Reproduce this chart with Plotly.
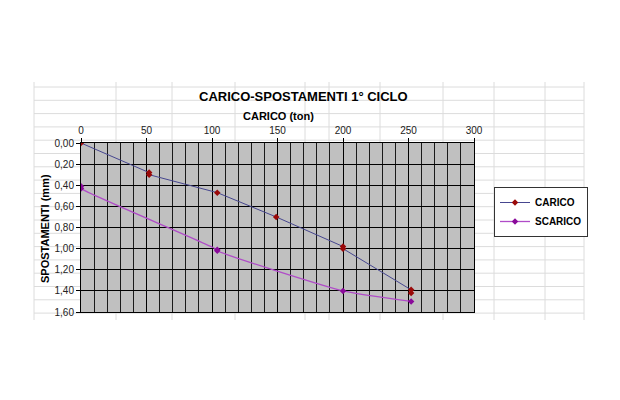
import plotly.graph_objects as go

# ---- data ----
carico_load = [0, 52, 52, 104, 149, 200, 200, 252, 252]
carico_disp = [0.00, 0.28, 0.30, 0.47, 0.70, 0.98, 1.00, 1.39, 1.42]

scarico_load = [252, 200, 104, 104, 0, 0]
scarico_disp = [1.50, 1.40, 1.02, 1.01, 0.43, 0.41]

x_ticks = [0, 50, 100, 150, 200, 250, 300]
y_ticks = [0.0, 0.2, 0.4, 0.6, 0.8, 1.0, 1.2, 1.4, 1.6]

title_text = "CARICO-SPOSTAMENTI 1° CICLO"
x_title = "CARICO (ton)"
y_title = "SPOSTAMENTI (mm)"

W, H = 620, 400
FONT = "Liberation Sans, Arial, sans-serif"

def px(x):
    return x / W

def py(y):
    return 1 - y / H

fig = go.Figure()

fig.add_trace(go.Scatter(
    x=carico_load, y=carico_disp, name="<b>CARICO</b>", mode="lines+markers",
    line=dict(color="#46468f", width=1),
    marker=dict(symbol="diamond", size=5, color="#9a0a0a"),
))
fig.add_trace(go.Scatter(
    x=scarico_load, y=scarico_disp, name="<b>SCARICO</b>", mode="lines+markers",
    line=dict(color="#b04cc8", width=1.3, shape="spline", smoothing=0.5),
    marker=dict(symbol="diamond", size=5, color="#8a0a9a"),
))

# faint spreadsheet cell grid behind the chart
shapes = []
row_lines = [87 + 13.3 * i for i in range(18)]
col_lines = [34, 116, 172, 235, 305, 329, 380, 443, 494, 545, 584]
for yy in row_lines:
    shapes.append(dict(type="line", xref="paper", yref="paper", x0=px(34), x1=px(584),
                       y0=py(yy), y1=py(yy), line=dict(color="#dcdcdc", width=1), layer="below"))
for xx in col_lines:
    shapes.append(dict(type="line", xref="paper", yref="paper", x0=px(xx), x1=px(xx),
                       y0=py(82), y1=py(320), line=dict(color="#dcdcdc", width=1), layer="below"))
# plot-area fill above the cell grid
shapes.append(dict(type="rect", xref="x domain", yref="y domain", x0=0, x1=1, y0=0, y1=1,
                   fillcolor="#c0c0c0", line=dict(width=0), layer="below"))

fig.update_layout(
    template="none",
    width=W, height=H, autosize=False,
    margin=dict(l=0, r=0, t=0, b=0, pad=0),
    paper_bgcolor="white", plot_bgcolor="#c0c0c0",
    separators=",.",
    font=dict(family=FONT, size=10, color="#222"),
    shapes=shapes,
    showlegend=True,
    hovermode=False,
    legend=dict(x=px(494), y=py(187), xanchor="left", yanchor="top",
                bgcolor="white", bordercolor="#333", borderwidth=1,
                font=dict(family=FONT, size=10, color="black"),
                itemwidth=30, tracegroupgap=0),
    annotations=[
        dict(text="<b>" + title_text + "</b>", xref="paper", yref="paper",
             x=px(303), y=py(97), xanchor="center", yanchor="middle",
             showarrow=False, font=dict(size=13, color="black")),
        dict(text="<b>" + x_title + "</b>", xref="paper", yref="paper",
             x=px(278), y=py(116), xanchor="center", yanchor="middle",
             showarrow=False, font=dict(size=11, color="black")),
        dict(text="<b>" + y_title + "</b>", xref="paper", yref="paper",
             x=px(45), y=py(229), xanchor="center", yanchor="middle",
             showarrow=False, textangle=-90, font=dict(size=11, color="black")),
    ],
)

fig.update_xaxes(
    domain=[px(81), px(474)], range=[0, 300], side="top", automargin=False,
    tickvals=x_ticks, ticks="outside", ticklen=4, tickcolor="black",
    showline=True, linecolor="black", linewidth=1, mirror=True,
    showgrid=True, gridcolor="black", gridwidth=1,
    minor=dict(dtick=10, showgrid=True, gridcolor="#1a1a1a", gridwidth=1),
    zeroline=False, fixedrange=True,
)
fig.update_yaxes(
    domain=[py(312), py(143)], range=[1.6, 0], automargin=False,
    tickvals=y_ticks, tickformat=".2f", ticks="outside", ticklen=4, tickcolor="black",
    showline=True, linecolor="black", linewidth=1, mirror=True,
    showgrid=True, gridcolor="black", gridwidth=1,
    zeroline=False, fixedrange=True,
)

fig.write_html(
    "out.html",
    config=dict(displayModeBar=False, staticPlot=True),
    post_script="document.body.style.margin='0';document.body.style.overflow='hidden';",
)
